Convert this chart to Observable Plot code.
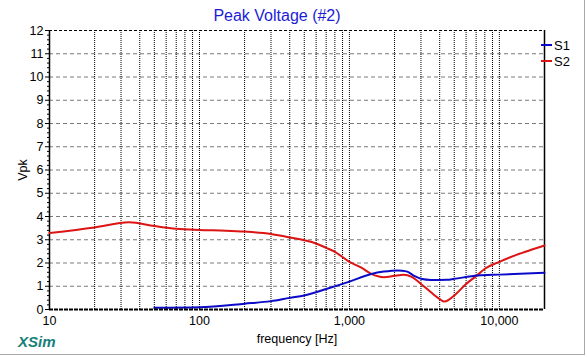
<!DOCTYPE html>
<html>
<head>
<meta charset="utf-8">
<script src="https://cdn.jsdelivr.net/npm/d3@7"></script>
<script src="https://cdn.jsdelivr.net/npm/@observablehq/plot@0.6"></script>
<style>
  html, body { margin: 0; padding: 0; background: white; }
  #wrap { position: relative; width: 587px; height: 357px; overflow: hidden; font-family: "Liberation Sans", Arial, sans-serif; }
  #wrap svg { position: absolute; left: 0; top: 0; }
  .ov { position: absolute; white-space: nowrap; line-height: 1; }
  #title { left: 0; width: 554px; text-align: center; top: 8px; font-size: 16px; color: #1c1cd6; }
  #xsim { left: 18px; top: 334px; font-size: 15px; font-weight: bold; font-style: italic; color: #168079; }
  .leg { position: absolute; left: 541px; width: 11px; height: 2px; }
  .legt { position: absolute; left: 554px; font-size: 13px; color: #000; line-height: 1; }
  #frame { position: absolute; left: 0; top: 0; width: 584px; height: 354px; border-right: 1px solid #a8a8a8; border-bottom: 1px solid #a8a8a8; pointer-events: none; }
</style>
</head>
<body>
<div id="wrap"></div>
<script>
// Data
const s2Freq = [10, 20, 34, 50, 70, 100, 150, 200, 300, 400, 500, 600, 700, 800, 1000, 1200, 1400, 1700, 2000, 2300, 2600, 3000, 3500, 4000, 4300, 5000, 6000, 7200, 8000, 10000, 13000, 16000, 20000];
const s2Vpk  = [3.29, 3.53, 3.75, 3.59, 3.47, 3.42, 3.39, 3.35, 3.25, 3.1, 2.98, 2.84, 2.65, 2.48, 2.05, 1.8, 1.53, 1.39, 1.45, 1.49, 1.4, 1.1, 0.74, 0.45, 0.34, 0.6, 1.1, 1.5, 1.75, 2.05, 2.35, 2.55, 2.75];
const s1Freq = [50, 100, 200, 300, 400, 500, 700, 1000, 1400, 1700, 2100, 2400, 2700, 3000, 3500, 4500, 5000, 7200, 10000, 20000];
const s1Vpk  = [0.08, 0.1, 0.25, 0.36, 0.5, 0.6, 0.88, 1.2, 1.53, 1.63, 1.68, 1.64, 1.45, 1.32, 1.27, 1.28, 1.32, 1.46, 1.5, 1.58];

const seriesNames = ["S1", "S2"];
const seriesColors = ["#0a0ac8", "#dc1414"];

const xTicks = [10, 100, 1000, 10000];
const xGrid = [20,30,40,50,60,70,80,90,100,200,300,400,500,600,700,800,900,1000,2000,3000,4000,5000,6000,7000,8000,9000,10000];
const yTicks = [0,1,2,3,4,5,6,7,8,9,10,11,12];
const yGrid = [1,2,3,4,5,6,7,8,9,10,11];
const yMinor = [0.2,0.4,0.6,0.8,1.2,1.4,1.6,1.8,2.2,2.4,2.6,2.8,3.2,3.4,3.6,3.8,4.2,4.4,4.6,4.8,5.2,5.4,5.6,5.8,6.2,6.4,6.6,6.8,7.2,7.4,7.6,7.8,8.2,8.4,8.6,8.8,9.2,9.4,9.6,9.8,10.2,10.4,10.6,10.8,11.2,11.4,11.6,11.8];

const s1 = s1Freq.map((f, i) => ({f, v: s1Vpk[i]}));
const s2 = s2Freq.map((f, i) => ({f, v: s2Vpk[i]}));

const chart = Plot.plot({
  width: 587,
  height: 357,
  marginLeft: 49,
  marginRight: 43,
  marginTop: 30,
  marginBottom: 48,
  style: { fontFamily: "'Liberation Sans', Arial, sans-serif", fontSize: "12px", background: "transparent", color: "black" },
  x: { type: "log", domain: [10, 20000] },
  y: { domain: [0, 12] },
  marks: [
    Plot.ruleY(yGrid, { stroke: "#7a7a7a", strokeDasharray: "4,3" }),
    Plot.ruleX(xGrid, { stroke: "black", strokeDasharray: "1,1" }),
    Plot.ruleY([12], { stroke: "black", strokeDasharray: "3,2" }),
    Plot.ruleX([10, 20000], { stroke: "black", strokeWidth: 1.5 }),
    Plot.line(s2, { x: "f", y: "v", stroke: seriesColors[1], strokeWidth: 2, curve: "monotone-x" }),
    Plot.line(s1, { x: "f", y: "v", stroke: seriesColors[0], strokeWidth: 2, curve: "monotone-x" }),
    Plot.ruleY([0], { stroke: "black", strokeWidth: 2, strokeDasharray: "4,1" }),
    Plot.axisX({ ticks: xTicks, tickFormat: d3.format(","), tickSize: 0, tickPadding: 7, fontSize: 12.5, label: "frequency [Hz]", labelAnchor: "center", labelArrow: "none", labelOffset: 33 }),
    Plot.axisY({ ticks: yMinor, tickSize: 2, tickFormat: () => "" , label: null}),
    Plot.axisY({ ticks: yTicks, tickSize: 4, tickPadding: 2, fontSize: 12.5, label: "Vpk", labelAnchor: "center", labelArrow: "none", labelOffset: 31 })
  ]
});

const wrap = document.getElementById("wrap");
wrap.appendChild(chart);

function addDiv(cls, id, text, style) {
  const d = document.createElement("div");
  if (cls) d.className = cls;
  if (id) d.id = id;
  if (text) d.textContent = text;
  if (style) Object.assign(d.style, style);
  wrap.appendChild(d);
  return d;
}
addDiv("ov", "title", "Peak Voltage (#2)");
addDiv("ov", "xsim", "XSim");
seriesNames.forEach((name, i) => {
  addDiv("leg", null, null, { top: (44 + i * 16) + "px", background: seriesColors[i] });
  addDiv("legt", null, name, { top: (39 + i * 16) + "px" });
});
addDiv(null, "frame");
</script>
</body>
</html>
